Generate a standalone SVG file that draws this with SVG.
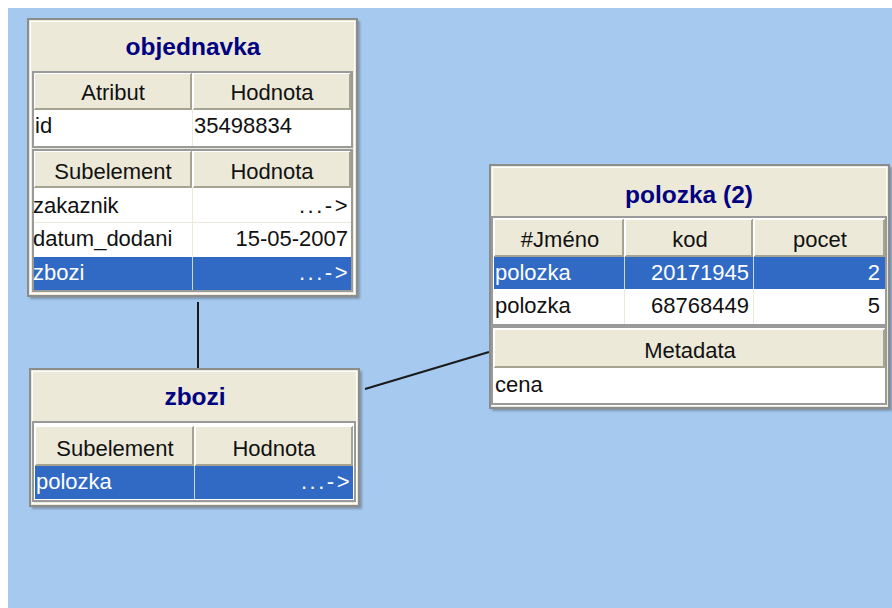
<svg xmlns="http://www.w3.org/2000/svg" width="892" height="608" viewBox="0 0 892 608">
<defs>
<filter id="sh" x="-5%" y="-5%" width="110%" height="110%"><feGaussianBlur stdDeviation="1.2"/></filter>
</defs>
<style>
.bg{fill:#A6C9EF}
.shadow{fill:#5f6b78;opacity:.55;filter:url(#sh)}
.frame{fill:#ECE9D8;stroke:#8C8C8C;stroke-width:2}
.inner{fill:none;stroke:#FFFFFF;stroke-width:1}
.tbl{fill:#FFFFFF;stroke:#9A9A9A;stroke-width:2}
.hd{fill:#ECE9D8}
.hdark{fill:none;stroke:#A7A391;stroke-width:2}
.hlight{fill:none;stroke:#FFFFFF;stroke-width:1}
.cell{fill:#FFFFFF}
.sel{fill:#316AC5}
.grid{stroke:#ECE9D8;stroke-width:1}
.selgrid{stroke:#C9D6EC;stroke-width:1}
.title{font-family:"Liberation Sans",Arial,sans-serif;font-weight:bold;font-size:24.5px;fill:#000080;text-anchor:middle}
.t{font-family:"Liberation Sans",Arial,sans-serif;font-size:22px;fill:#111111}
.c{text-anchor:middle}
.r{text-anchor:end}
.w{fill:#FFFFFF}
.dots{letter-spacing:2.5px}
.conn{stroke:#1A1A1A;stroke-width:2;fill:none}
</style>
<rect x="0" y="0" width="892" height="608" fill="#FFFFFF"/>
<rect class="bg" x="8" y="8" width="884" height="600"/>

<g id="connectors">
<line class="conn" x1="198" y1="302" x2="198" y2="368"/>
<line class="conn" x1="365" y1="389" x2="489" y2="352"/>
</g>

<g id="objednavka">
<rect class="shadow" x="30" y="21" width="330" height="278"/>
<rect class="frame" x="28" y="19" width="329" height="277"/>
<rect class="inner" x="30.5" y="21.5" width="324" height="272"/>
<text class="title" x="193" y="55">objednavka</text>
<rect class="tbl" x="33" y="72" width="319" height="75"/>
<rect class="hd" x="34" y="73" width="158" height="37"/>
<path class="hdark" d="M191 73V109H34"/>
<path class="hlight" d="M34.5 109V73.5H191"/>
<rect class="hd" x="193" y="73" width="158" height="37"/>
<path class="hdark" d="M350 73V109H193"/>
<path class="hlight" d="M193.5 109V73.5H350"/>
<rect class="cell" x="34" y="110" width="317" height="36"/>
<line class="grid" x1="192.5" y1="110" x2="192.5" y2="146"/>
<text class="t c" x="113" y="100">Atribut</text>
<text class="t c" x="272" y="100">Hodnota</text>
<text class="t" x="35" y="133">id</text>
<text class="t" x="194" y="133">35498834</text>
<rect class="tbl" x="33" y="150" width="319" height="141"/>
<rect class="hd" x="34" y="151" width="158" height="37"/>
<path class="hdark" d="M191 151V187H34"/>
<path class="hlight" d="M34.5 187V151.5H191"/>
<rect class="hd" x="193" y="151" width="158" height="37"/>
<path class="hdark" d="M350 151V187H193"/>
<path class="hlight" d="M193.5 187V151.5H350"/>
<rect class="cell" x="34" y="188" width="317" height="68"/>
<line class="grid" x1="34" y1="222.5" x2="351" y2="222.5"/>
<line class="grid" x1="192.5" y1="188" x2="192.5" y2="256"/>
<rect class="sel" x="34" y="257" width="317" height="33"/>
<line class="selgrid" x1="192.5" y1="257" x2="192.5" y2="290"/>
<text class="t c" x="113" y="179">Subelement</text>
<text class="t c" x="272" y="179">Hodnota</text>
<text class="t" x="33" y="213">zakaznik</text>
<text class="t r dots" x="350" y="213">...-&gt;</text>
<text class="t" x="33" y="246">datum_dodani</text>
<text class="t r" x="348" y="246">15-05-2007</text>
<text class="t w" x="33" y="280">zbozi</text>
<text class="t r w dots" x="350" y="280">...-&gt;</text>
</g>

<g id="zbozi">
<rect class="shadow" x="32" y="371" width="330" height="138"/>
<rect class="frame" x="30" y="369" width="329" height="137"/>
<rect class="inner" x="32.5" y="371.5" width="324" height="132"/>
<text class="title" x="195" y="405">zbozi</text>
<rect class="tbl" x="33" y="422" width="322" height="79"/>
<rect class="hd" x="35" y="426" width="159" height="40"/>
<path class="hdark" d="M193 426V465H35"/>
<path class="hlight" d="M35.5 465V426.5H193"/>
<rect class="hd" x="195" y="426" width="158" height="40"/>
<path class="hdark" d="M352 426V465H195"/>
<path class="hlight" d="M195.5 465V426.5H352"/>
<rect class="sel" x="35" y="466" width="318" height="33"/>
<line class="selgrid" x1="194.5" y1="466" x2="194.5" y2="499"/>
<text class="t c" x="115" y="456">Subelement</text>
<text class="t c" x="274" y="456">Hodnota</text>
<text class="t w" x="36" y="489">polozka</text>
<text class="t r w dots" x="352" y="489">...-&gt;</text>
</g>

<g id="polozka">
<rect class="shadow" x="492" y="167" width="400" height="244"/>
<rect class="frame" x="490" y="165" width="399" height="243"/>
<rect class="inner" x="492.5" y="167.5" width="394" height="238"/>
<text class="title" x="689" y="203">polozka (2)</text>
<rect class="tbl" x="492" y="217" width="394" height="108"/>
<rect class="hd" x="494" y="219" width="130" height="38"/>
<path class="hdark" d="M623 219V256H494"/>
<path class="hlight" d="M494.5 256V219.5H623"/>
<rect class="hd" x="625" y="219" width="128" height="38"/>
<path class="hdark" d="M752 219V256H625"/>
<path class="hlight" d="M625.5 256V219.5H752"/>
<rect class="hd" x="754" y="219" width="131" height="38"/>
<path class="hdark" d="M884 219V256H754"/>
<path class="hlight" d="M754.5 256V219.5H884"/>
<rect class="sel" x="494" y="257" width="391" height="32"/>
<line class="selgrid" x1="624.5" y1="257" x2="624.5" y2="289"/>
<line class="selgrid" x1="753.5" y1="257" x2="753.5" y2="289"/>
<rect class="cell" x="494" y="290" width="391" height="34"/>
<line class="grid" x1="624.5" y1="290" x2="624.5" y2="324"/>
<line class="grid" x1="753.5" y1="290" x2="753.5" y2="324"/>
<text class="t c" x="560" y="247">#Jméno</text>
<text class="t c" x="690" y="247">kod</text>
<text class="t c" x="820" y="247">pocet</text>
<text class="t w" x="495" y="280">polozka</text>
<text class="t r w" x="749" y="280">20171945</text>
<text class="t r w" x="880" y="280">2</text>
<text class="t" x="495" y="313">polozka</text>
<text class="t r" x="749" y="313">68768449</text>
<text class="t r" x="880" y="313">5</text>
<rect class="tbl" x="492" y="327" width="394" height="77"/>
<rect class="hd" x="494" y="329" width="391" height="39"/>
<path class="hdark" d="M884 329V367H494"/>
<path class="hlight" d="M494.5 367V329.5H884"/>
<rect class="cell" x="494" y="368" width="391" height="35"/>
<text class="t c" x="690" y="358">Metadata</text>
<text class="t" x="495" y="392">cena</text>
</g>
</svg>
